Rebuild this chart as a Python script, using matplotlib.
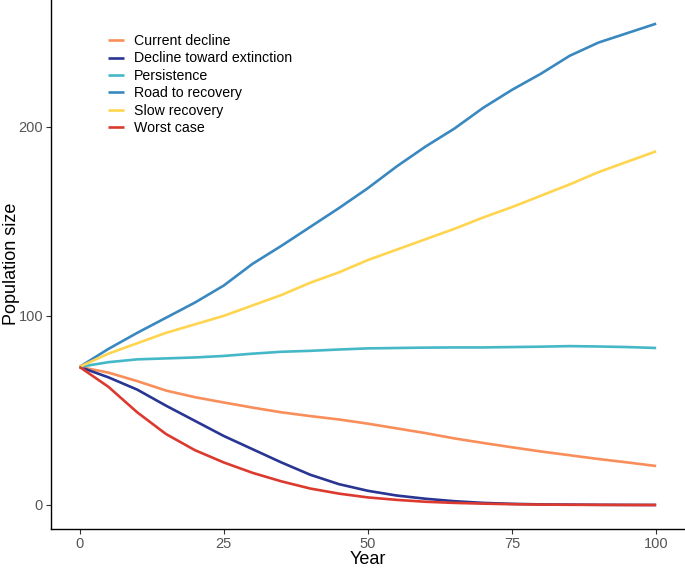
import numpy as np
import matplotlib
matplotlib.use("Agg")
import matplotlib.pyplot as plt

plt.rcParams['font.family'] = ['Liberation Sans', 'DejaVu Sans']

years = [0, 5, 10, 15, 20, 25, 30, 35, 40, 45, 50, 55, 60, 65, 70, 75, 80, 85, 90, 95, 100]

current_decline = [73, 70, 65.5, 60.5, 57, 54.2, 51.5, 49, 47, 45.2, 43, 40.5, 38, 35.2,
                   32.8, 30.5, 28.3, 26.3, 24.3, 22.5, 20.6]
decline_extinction = [73, 67.5, 61, 52.5, 44.5, 36.5, 29.5, 22.5, 16, 11, 7.5, 5, 3.3, 2,
                      1.1, 0.6, 0.3, 0.2, 0.1, 0.05, 0]
persistence = [73, 75.5, 77, 77.5, 78, 78.8, 80, 81, 81.5, 82.2, 82.8, 83, 83.2, 83.3,
               83.3, 83.5, 83.7, 84, 83.8, 83.5, 83]
road_recovery = [73, 82.5, 91, 99, 107, 116, 127.5, 137, 147, 157, 167.5, 179, 189.5, 199,
                 210, 219.5, 228, 237.5, 244.5, 249.5, 254.5]
slow_recovery = [73, 80, 85.5, 91, 95.5, 100, 105.5, 111, 117.5, 123, 129.5, 135, 140.5, 146,
                 152, 157.5, 163.5, 169.5, 176, 181.5, 187]
worst_case = [73, 62.5, 49, 37.5, 29, 22.5, 17, 12.5, 8.7, 6, 4, 2.7, 1.7, 1.1,
              0.7, 0.4, 0.2, 0.1, 0.05, 0, 0]

labels = ["Current decline", "Decline toward extinction", "Persistence",
          "Road to recovery", "Slow recovery", "Worst case"]
colors = ["#F98E5A", "#283593", "#45B8C8", "#3A88C0", "#FFD54F", "#DC3A2F"]
series = [current_decline, decline_extinction, persistence, road_recovery, slow_recovery, worst_case]

fig = plt.figure(figsize=(6.85, 5.69), dpi=100)
ax = fig.add_axes([50.7 / 685, (569 - 529) / 569, 1 - 50.7 / 685, 529 / 569])

for vals, lab, col in zip(series, labels, colors):
    ax.plot(years, vals, color=col, lw=1.9, label=lab, solid_capstyle='butt')

ax.set_xlim(-5, 105)
ax.set_ylim(-12.7, 267)
ax.set_xticks([0, 25, 50, 75, 100])
ax.set_yticks([0, 100, 200])

for s in ['top', 'right']:
    ax.spines[s].set_visible(False)
for s in ['left', 'bottom']:
    ax.spines[s].set_linewidth(1.0)
    ax.spines[s].set_color('black')

ax.tick_params(axis='both', direction='out', length=3.5, width=0.8, color='#333333',
               labelcolor='#555555', labelsize=10.5, pad=2)
ax.set_xlabel("Year", fontsize=13, labelpad=0)
ax.set_ylabel("Population size", fontsize=13)
ax.yaxis.set_label_coords(20 / 685, 1 - 264 / 569, transform=fig.transFigure)

leg = ax.legend(loc='upper left', bbox_to_anchor=(101 / 685, 1 - 27 / 569),
                bbox_transform=fig.transFigure, frameon=False, fontsize=10.2,
                handlelength=1.1, handletextpad=0.75, labelspacing=0.24, borderpad=0)

fig.savefig("out.png", dpi=100)
